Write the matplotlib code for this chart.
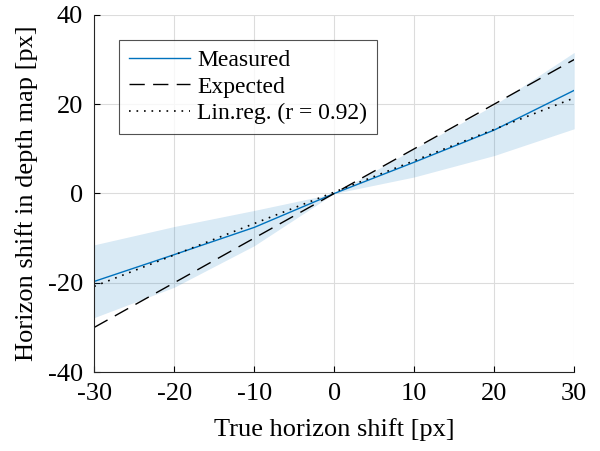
import matplotlib
matplotlib.use('Agg')
import matplotlib.pyplot as plt
import numpy as np

# data
x = [-30, -20, -10, 0, 10, 20, 30]
measured = [-19.7, -13.7, -7.6, 0, 7.0, 14.2, 23.1]
band_hi = [-11.5, -7.4, -3.8, 0, 10.0, 19.8, 31.6]
band_lo = [-27.8, -21.0, -11.7, 0, 3.7, 8.5, 14.5]
exp_x = [-30, 30]
exp_y = [-30, 30]
reg_x = [-30, 30]
reg_y = [-20.8, 21.4]

plt.rcParams['font.family'] = 'Liberation Serif'
plt.rcParams['axes.unicode_minus'] = False

fig = plt.figure(figsize=(6, 4.51), dpi=100)
ax = fig.add_axes([0.157, 0.175, 0.8, 0.792])

ax.fill_between(x, band_lo, band_hi, color='#0072bd', alpha=0.15, lw=0)
ax.plot(x, measured, color='#0072bd', lw=1, label='Measured')
ax.plot(exp_x, exp_y, color='k', lw=1, dashes=(11, 6), label='Expected')
ax.plot(reg_x, reg_y, color='k', lw=1.2, linestyle=(0, (1, 3.5)), label='Lin.reg. (r = 0.92)')

ax.set_xlim(-30, 30)
ax.set_ylim(-40, 40)
ax.set_xticks([-30, -20, -10, 0, 10, 20, 30])
ax.set_yticks([-40, -20, 0, 20, 40])
ax.grid(True, color='#dcdcdc', lw=0.8)
ax.set_axisbelow(True)
ax.tick_params(direction='in', length=4, labelsize=19, width=0.8, top=False, right=False)
ax.tick_params(axis='x', pad=8)
ax.tick_params(axis='y', pad=8)
for s in ['top', 'right']:
    ax.spines[s].set_visible(False)
for s in ['left', 'bottom']:
    ax.spines[s].set_color('#262626')
ax.set_xlabel('True horizon shift [px]', fontsize=19, labelpad=9)
ax.set_ylabel('Horizon shift in depth map [px]', fontsize=19, labelpad=7)

leg = ax.legend(loc='upper left', bbox_to_anchor=(0.052, 0.93), fontsize=17, frameon=True,
                fancybox=False, edgecolor='#262626', handlelength=2.6, borderpad=0.4,
                labelspacing=0.22, handletextpad=0.3, borderaxespad=0)
leg.get_frame().set_linewidth(0.8)

fig.savefig('out.png', dpi=100)
